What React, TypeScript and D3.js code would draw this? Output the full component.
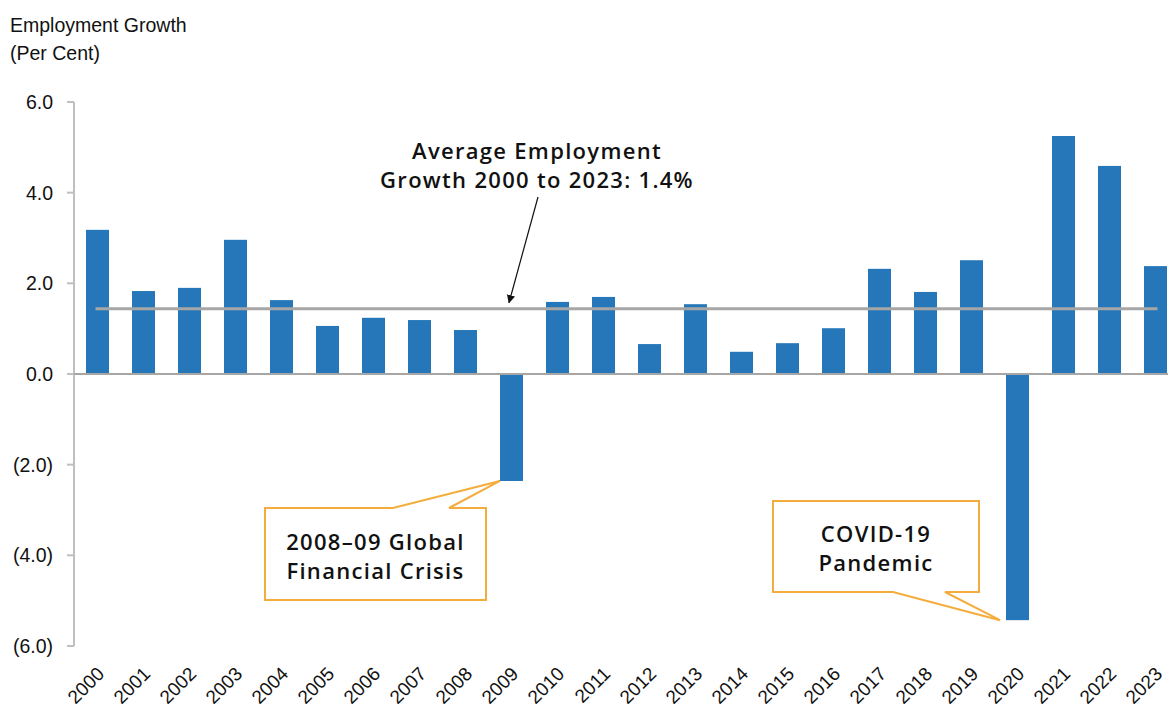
import React, { useEffect, useRef } from 'react';
import * as d3 from 'd3';

const years = [
  '2000', '2001', '2002', '2003', '2004', '2005', '2006', '2007', '2008', '2009', '2010', '2011',
  '2012', '2013', '2014', '2015', '2016', '2017', '2018', '2019', '2020', '2021', '2022', '2023',
];
const growth = [
  3.18, 1.83, 1.9, 2.96, 1.63, 1.06, 1.24, 1.19, 0.97, -2.36, 1.59, 1.7,
  0.66, 1.54, 0.49, 0.68, 1.01, 2.32, 1.81, 2.51, -5.43, 5.25, 4.59, 2.38,
];
const yTicks = [6, 4, 2, 0, -2, -4, -6];
const average = 1.44;
const titleLines = ['Employment Growth', '(Per Cent)'];
const avgLabel = ['Average Employment', 'Growth 2000 to 2023: 1.4%'];
const gfcLabel = ['2008–09 Global', 'Financial Crisis'];
const covidLabel = ['COVID-19', 'Pandemic'];

const App = () => {
  const ref = useRef<SVGSVGElement>(null);
  const width = 1168;
  const height = 725;

  useEffect(() => {
    const svg = d3.select(ref.current).attr('width', width).attr('height', height);
    svg.selectAll('*').remove();

    const axisFont = "'Liberation Sans', Arial, sans-serif";
    const noteFont = "'Open Sans', 'Noto Sans', sans-serif";
    const blue = '#2577b9';
    const orange = '#f4ad3c';

    const x = d3.scaleBand().domain(years).range([74.5, 74.5 + 46 * 24]).paddingInner(0.5).paddingOuter(0.25);
    const y = d3.scaleLinear().domain([-6, 6]).range([646, 102]);
    const bw = x.bandwidth();

    // Title
    titleLines.forEach((t, i) => {
      svg.append('text')
        .attr('x', 10)
        .attr('y', 32 + i * 28)
        .style('font-family', axisFont)
        .style('font-size', '19.5px')
        .attr('fill', '#111')
        .text(t);
    });

    // Bars
    svg.append('g')
      .selectAll('rect')
      .data(growth)
      .enter()
      .append('rect')
      .attr('x', (d, i) => x(years[i]) as number)
      .attr('width', bw)
      .attr('y', (d) => y(Math.max(0, d)))
      .attr('height', (d) => Math.abs(y(d) - y(0)))
      .attr('fill', blue);

    // Y axis line and ticks
    svg.append('line')
      .attr('x1', 74).attr('x2', 74)
      .attr('y1', y(6)).attr('y2', y(-6))
      .attr('stroke', '#bfbfbf').attr('stroke-width', 2);

    yTicks.forEach((t) => {
      svg.append('line')
        .attr('x1', 67).attr('x2', 74)
        .attr('y1', y(t)).attr('y2', y(t))
        .attr('stroke', '#bfbfbf').attr('stroke-width', 2);
      svg.append('text')
        .attr('x', 53)
        .attr('y', y(t))
        .attr('dy', '0.36em')
        .attr('text-anchor', 'end')
        .style('font-family', axisFont)
        .style('font-size', '19.5px')
        .attr('fill', '#111')
        .text(t < 0 ? `(${Math.abs(t).toFixed(1)})` : t.toFixed(1));
    });

    // Zero line
    svg.append('line')
      .attr('x1', 74).attr('x2', width)
      .attr('y1', y(0)).attr('y2', y(0))
      .attr('stroke', '#a6a6a6').attr('stroke-width', 2);

    // Average line
    svg.append('line')
      .attr('x1', (x(years[0]) as number) + bw / 2 - 2)
      .attr('x2', (x(years[years.length - 1]) as number) + bw / 2 + 2)
      .attr('y1', y(average)).attr('y2', y(average))
      .attr('stroke', '#a6a6a6').attr('stroke-width', 3);

    // X labels
    years.forEach((yr) => {
      const cx = (x(yr) as number) + bw / 2;
      svg.append('text')
        .attr('transform', `translate(${cx + 8},675) rotate(-45)`)
        .attr('text-anchor', 'end')
        .style('font-family', axisFont)
        .style('font-size', '19px')
        .attr('fill', '#111')
        .text(yr);
    });

    const noteText = (g: any, xx: number, yy: number, t: string) =>
      g.append('text')
        .attr('x', xx)
        .attr('y', yy)
        .attr('text-anchor', 'middle')
        .style('font-family', noteFont)
        .style('font-size', '22px')
        .style('font-weight', 600)
        .style('letter-spacing', '1.3px')
        .attr('fill', '#111')
        .text(t);

    // Average annotation
    avgLabel.forEach((t, i) => noteText(svg, 537, 159 + i * 29, t));
    svg.append('defs')
      .append('marker')
      .attr('id', 'arrow')
      .attr('viewBox', '0 0 10 10')
      .attr('refX', 9).attr('refY', 5)
      .attr('markerWidth', 7).attr('markerHeight', 7)
      .attr('orient', 'auto')
      .append('path')
      .attr('d', 'M0,0 L10,5 L0,10 Z')
      .attr('fill', '#111');
    svg.append('line')
      .attr('x1', 538).attr('y1', 197)
      .attr('x2', 509).attr('y2', y(average) - 6)
      .attr('stroke', '#111').attr('stroke-width', 1.2)
      .attr('marker-end', 'url(#arrow)');

    // Callouts
    const callout = (
      box: [number, number, number, number],
      base: [number, number],
      tip: [number, number],
      fromTop: boolean,
      lines: string[],
      baseline: number,
    ) => {
      const [x0, y0, x1, y1] = box;
      const pts: [number, number][] = fromTop
        ? [[x0, y0], [base[0], y0], tip, [base[1], y0], [x1, y0], [x1, y1], [x0, y1]]
        : [[x0, y0], [x1, y0], [x1, y1], [base[1], y1], tip, [base[0], y1], [x0, y1]];
      svg.append('path')
        .attr('d', d3.line()(pts) + 'Z')
        .attr('fill', '#fff')
        .attr('stroke', orange)
        .attr('stroke-width', 2);
      lines.forEach((t, i) => noteText(svg, (x0 + x1) / 2, baseline + i * 29, t));
    };

    const gfcIdx = years.indexOf('2009');
    const covIdx = years.indexOf('2020');
    callout([265, 508, 486, 600], [393, 449], [x(years[gfcIdx]) as number, y(growth[gfcIdx])], true, gfcLabel, 550);
    callout([773, 501, 979, 592], [893, 945], [(x(years[covIdx]) as number) - 6, y(growth[covIdx])], false, covidLabel, 542);
  }, []);

  return (
    <div style={{ position: 'absolute', left: 0, top: 0 }}>
      <svg ref={ref}></svg>
    </div>
  );
};

export default App;
